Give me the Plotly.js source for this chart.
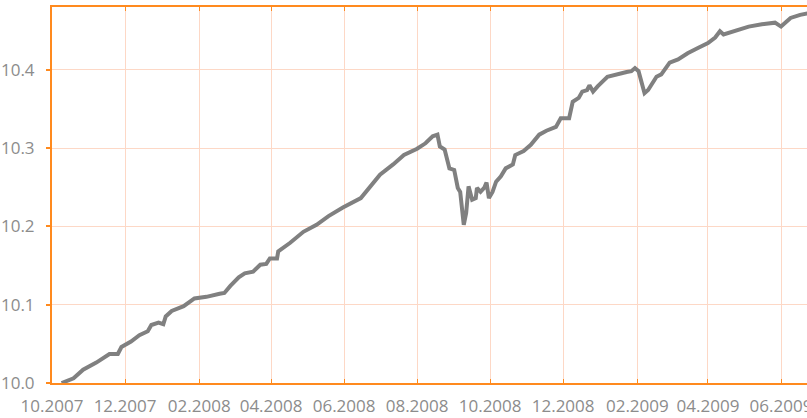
<!DOCTYPE html>
<html>
<head>
<meta charset="utf-8">
<script src="https://cdn.plot.ly/plotly-3.0.1.min.js"></script>
<style>html,body{margin:0;padding:0;background:#fff;overflow:hidden;width:807px;height:418px;}#chart{width:860px;height:418px;}</style>
</head>
<body>
<div id="chart"></div>
<script>
const dates = [
 '2007-10-09','2007-10-19','2007-10-27','2007-11-07','2007-11-18','2007-11-25','2007-11-28','2007-12-06','2007-12-13','2007-12-20',
 '2007-12-23','2007-12-29','2008-01-02','2008-01-04','2008-01-09','2008-01-19','2008-01-28','2008-02-07','2008-02-18','2008-02-22',
 '2008-02-27','2008-03-05','2008-03-10','2008-03-17','2008-03-23','2008-03-28','2008-03-31','2008-04-06','2008-04-07','2008-04-17',
 '2008-04-28','2008-05-09','2008-05-19','2008-05-27','2008-05-31','2008-06-15','2008-07-01','2008-07-12','2008-07-21','2008-08-01',
 '2008-08-08','2008-08-14','2008-08-18','2008-08-20','2008-08-24','2008-08-28','2008-09-01','2008-09-04','2008-09-06','2008-09-09',
 '2008-09-11','2008-09-13','2008-09-16','2008-09-19','2008-09-20','2008-09-23','2008-09-26','2008-09-28','2008-09-30','2008-10-03',
 '2008-10-06','2008-10-10','2008-10-14','2008-10-20','2008-10-22','2008-10-29','2008-11-04','2008-11-11','2008-11-17','2008-11-25',
 '2008-11-29','2008-12-06','2008-12-09','2008-12-14','2008-12-17','2008-12-21','2008-12-23','2008-12-26','2008-12-30','2009-01-07',
 '2009-01-16','2009-01-23','2009-01-27','2009-01-30','2009-02-02','2009-02-05','2009-02-07','2009-02-10','2009-02-17','2009-02-21',
 '2009-02-25','2009-02-28','2009-03-07','2009-03-15','2009-03-24','2009-04-01','2009-04-07','2009-04-11','2009-04-14','2009-04-24',
 '2009-05-05','2009-05-16','2009-05-27','2009-06-01','2009-06-09','2009-06-17','2009-06-23','2009-06-30'
];
const values = [
 10.000,10.006,10.017,10.026,10.037,10.037,10.046,10.053,10.061,10.066,
 10.074,10.077,10.075,10.085,10.092,10.098,10.108,10.110,10.114,10.115,
 10.124,10.135,10.140,10.142,10.151,10.152,10.159,10.159,10.168,10.179,
 10.193,10.202,10.213,10.221,10.224,10.236,10.266,10.279,10.291,10.299,
 10.306,10.315,10.317,10.302,10.298,10.274,10.272,10.249,10.244,10.202,
 10.217,10.251,10.234,10.236,10.249,10.244,10.249,10.256,10.236,10.244,
 10.257,10.264,10.274,10.279,10.291,10.296,10.304,10.317,10.322,10.327,
 10.338,10.338,10.359,10.364,10.372,10.374,10.380,10.372,10.379,10.391,
 10.395,10.397,10.398,10.402,10.398,10.383,10.370,10.374,10.391,10.394,
 10.402,10.409,10.413,10.421,10.428,10.434,10.441,10.449,10.445,10.450,
 10.455,10.458,10.460,10.455,10.466,10.470,10.472,10.474
];
const yTicks = [10.0, 10.1, 10.2, 10.3, 10.4];

const orange = '#FF8A1E';
const grid = '#FDD8C6';
const labelColor = '#8C8C8C';
const fontFam = 'Open Sans, sans-serif';

const trace = {
  x: dates, y: values, type: 'scatter', mode: 'lines',
  line: {color: '#808080', width: 4}, hoverinfo: 'skip'
};

const layout = {
  width: 860, height: 418,
  margin: {l: 52, r: 0, t: 7, b: 35, pad: 0},
  paper_bgcolor: '#fff', plot_bgcolor: '#fff',
  showlegend: false,
  font: {family: fontFam, size: 17, color: labelColor},
  xaxis: {
    type: 'date',
    range: ['2007-10-01', '2009-08-06'],
    tick0: '2007-10-01', dtick: 'M2', tickformat: '%m.%Y',
    showgrid: true, gridcolor: grid, gridwidth: 1,
    showline: true, linecolor: orange, linewidth: 2, mirror: 'ticks',
    ticks: 'inside', ticklen: 4, tickcolor: orange, tickwidth: 1,
    ticklabelstandoff: 7,
    zeroline: false,
    tickfont: {family: fontFam, size: 17, color: labelColor}
  },
  yaxis: {
    range: [10.0, 10.48],
    tickvals: yTicks, tickformat: '.1f',
    showgrid: true, gridcolor: grid, gridwidth: 1,
    showline: true, linecolor: orange, linewidth: 2,
    ticks: 'outside', ticklen: 4, tickcolor: orange, tickwidth: 2,
    ticklabelstandoff: 8,
    zeroline: false,
    tickfont: {family: fontFam, size: 17, color: labelColor}
  }
};

Plotly.newPlot('chart', [trace], layout, {staticPlot: true, displayModeBar: false});
</script>
</body>
</html>
